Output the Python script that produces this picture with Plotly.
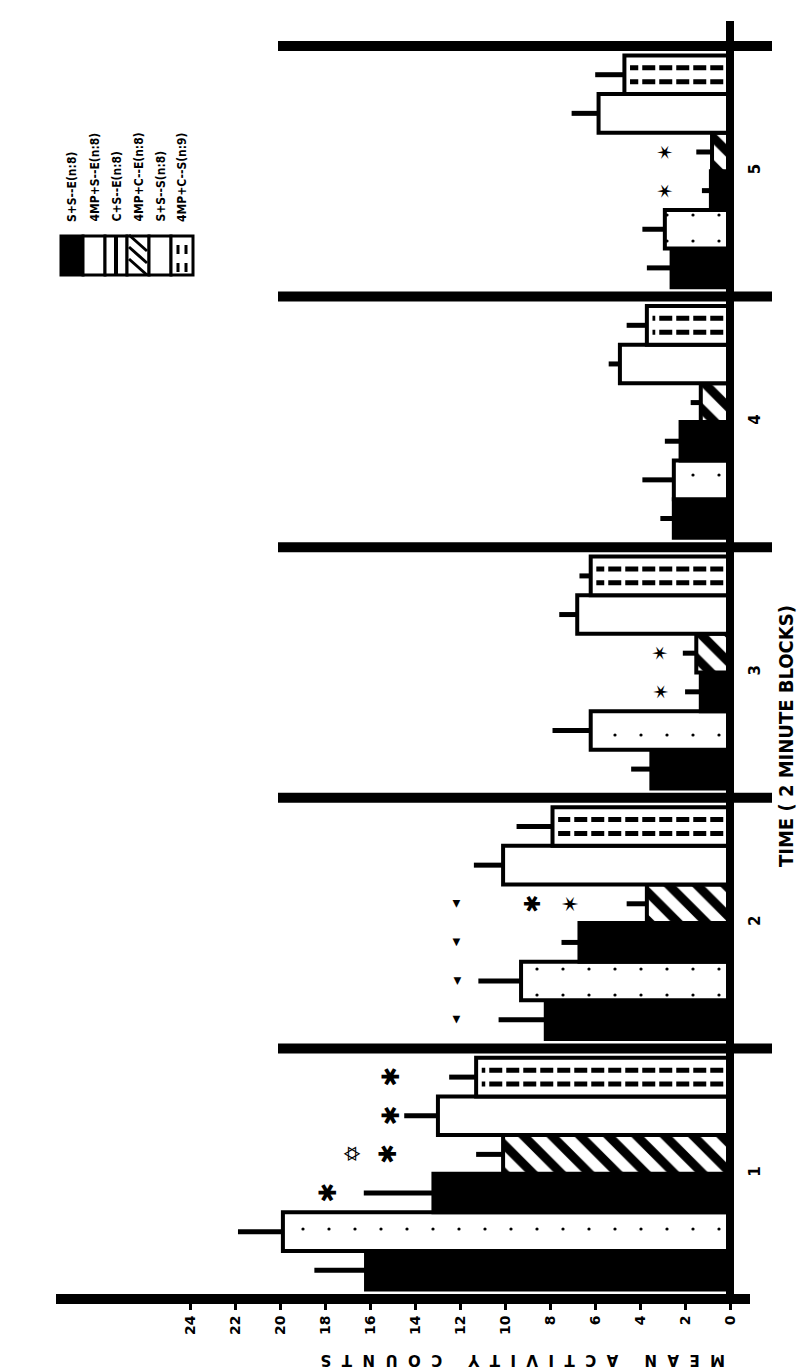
import plotly.graph_objects as go

# ---------------- data ----------------
blocks = [1, 2, 3, 4, 5]
block_labels = ["1", "2", "3", "4", "5"]
value_ticks = [0, 2, 4, 6, 8, 10, 12, 14, 16, 18, 20, 22, 24]

groups = ["S+S--E(n:8)", "4MP+S--E(n:8)", "C+S--E(n:8)",
          "4MP+C--E(n:8)", "S+S--S(n:8)", "4MP+C--S(n:9)"]

s_s_e = [16.2, 8.2, 3.5, 2.5, 2.6]
s_s_e_err = [2.3, 2.1, 0.9, 0.6, 1.1]
mp_s_e = [19.9, 9.3, 6.2, 2.5, 2.9]
mp_s_e_err = [2.0, 1.9, 1.7, 1.4, 1.0]
c_s_e = [13.2, 6.7, 1.3, 2.2, 0.85]
c_s_e_err = [3.1, 0.8, 0.7, 0.7, 0.4]
mp_c_e = [10.1, 3.7, 1.5, 1.3, 0.8]
mp_c_e_err = [1.2, 0.9, 0.6, 0.45, 0.7]
s_s_s = [13.0, 10.1, 6.8, 4.9, 5.85]
s_s_s_err = [1.5, 1.3, 0.8, 0.5, 1.2]
mp_c_s = [11.3, 7.9, 6.2, 3.7, 4.7]
mp_c_s_err = [1.2, 1.6, 0.5, 0.9, 1.3]

values = [s_s_e, mp_s_e, c_s_e, mp_c_e, s_s_s, mp_c_s]
errors = [s_s_e_err, mp_s_e_err, c_s_e_err, mp_c_e_err, s_s_s_err, mp_c_s_err]

# significance marks: block, bar index, value position, symbol, size
marks_block = [1, 1, 1, 1, 1, 2, 2, 2, 2, 2, 2, 3, 3, 5, 5]
marks_bar = [2, 3, 3, 4, 5, 3, 3, 3, 2, 1, 0, 3, 2, 3, 2]
marks_val = [17.9, 16.8, 15.2, 15.1, 15.1, 8.8, 7.1, 12.2, 12.2, 12.2, 12.2, 3.1, 3.1, 2.9, 2.9]
marks_sym = ["✱", "✡", "✱", "✱", "✱", "✱", "✶", "◀", "◀", "◀", "◀", "✶", "✶", "✶", "✶"]
marks_size = [24, 22, 24, 24, 24, 22, 22, 10, 10, 10, 10, 20, 20, 20, 20]

# ---------------- styles ----------------
styles = [
    dict(color="black", pattern=dict(shape="")),
    dict(color="white", pattern=dict(shape=".", fgcolor="black", bgcolor="white",
                                     fgopacity=1, size=26, solidity=0.012)),
    dict(color="black", pattern=dict(shape="")),
    dict(color="white", pattern=dict(shape="\\", fgcolor="black", bgcolor="white",
                                     fgopacity=1, size=20, solidity=0.45)),
    dict(color="white", pattern=dict(shape="")),
    dict(color="white", pattern=dict(shape="")),
]

W, H = 809, 1368
L, R, T, B = 48, 87, 38, 77
PW, PH = W - L - R, H - T - B


def px_x(px):
    return (px - L) / PW


def px_y(py):
    return (H - B - py) / PH


bargap = 0.075
bar_w = (1 - bargap) / len(groups)

fig = go.Figure()
for name, vals, errs, st in zip(groups, values, errors, styles):
    fig.add_trace(go.Bar(
        x=vals, y=blocks, orientation="h", name=name,
        marker=dict(color=st["color"], pattern=st["pattern"],
                    line=dict(color="black", width=4)),
        error_x=dict(type="data", symmetric=False, array=errs,
                     arrayminus=[0] * len(errs), color="black",
                     thickness=5, width=0),
        showlegend=False,
    ))

# two rows of dashes inside the 4MP+C--S bars
dash_x, dash_y = [], []
c5 = -(1 - bargap) / 2 + bar_w * 5.5
for b, v in zip(blocks, mp_c_s):
    for off in (-0.18, 0.18):
        yy = b + c5 + off * bar_w
        dash_x += [0.3, v - 0.25, None]
        dash_y += [yy, yy, None]
fig.add_trace(go.Scatter(x=dash_x, y=dash_y, mode="lines", hoverinfo="skip",
                         line=dict(color="black", width=5, dash="13px,4px"),
                         showlegend=False))

annotations = []
for b, i, v, s, sz in zip(marks_block, marks_bar, marks_val, marks_sym, marks_size):
    yy = b - (1 - bargap) / 2 + bar_w * (i + 0.5)
    annotations.append(dict(x=v, y=yy, xref="x", yref="y", text=s, showarrow=False,
                            textangle=-90, xanchor="center", yanchor="middle",
                            font=dict(size=sz, color="black", family="DejaVu Sans")))

title_txt = "     ".join("  ".join(list(w)) for w in ["MEAN", "ACTIVITY", "COUNTS"])
annotations.append(dict(x=px_x(515), y=px_y(1352), xref="paper", yref="paper",
                        text="<b>" + title_txt + "</b>",
                        showarrow=False, textangle=180, xanchor="center", yanchor="middle",
                        font=dict(size=15, color="black", family="DejaVu Sans")))
annotations.append(dict(x=px_x(778), y=px_y(728), xref="paper", yref="paper",
                        text="<b>TIME ( 2 MINUTE BLOCKS)</b>",
                        showarrow=False, textangle=-90, xanchor="center", yanchor="middle",
                        font=dict(size=20, color="black", family="DejaVu Sans Condensed")))

shapes = []
# bottom axis line
shapes.append(dict(type="line", xref="paper", yref="paper", x0=0, x1=px_x(742),
                   y0=0, y1=0, line=dict(color="black", width=10)))
# baseline (zero) line
shapes.append(dict(type="line", xref="paper", yref="paper", x0=1, x1=1,
                   y0=px_y(1296), y1=px_y(13), line=dict(color="black", width=8)))
# block separators
for k in range(1, 6):
    shapes.append(dict(type="line", xref="paper", yref="paper", x0=px_x(270), x1=px_x(764),
                       y0=k / 5, y1=k / 5, line=dict(color="black", width=10)))

# custom rotated legend (top left)
sw_top, sw_bot = 228, 267
for i, name in enumerate(groups):
    xc = 64 + 22 * i
    x0, x1 = xc - 11, xc + 11
    fill = "black" if i == 0 else "white"
    shapes.append(dict(type="rect", xref="paper", yref="paper",
                       x0=px_x(x0), x1=px_x(x1), y0=px_y(sw_bot), y1=px_y(sw_top),
                       fillcolor=fill, line=dict(color="black", width=3)))
    if i == 2:
        shapes.append(dict(type="line", xref="paper", yref="paper", x0=px_x(xc), x1=px_x(xc),
                           y0=px_y(sw_bot), y1=px_y(sw_top), line=dict(color="black", width=4)))
    if i == 3:
        for d in (-12, 0, 12):
            shapes.append(dict(type="line", xref="paper", yref="paper",
                               x0=px_x(x0 + 2), x1=px_x(x1 - 2),
                               y0=px_y(247 + d - 8), y1=px_y(247 + d + 8),
                               line=dict(color="black", width=3)))
    if i == 5:
        for dx in (-4, 4):
            shapes.append(dict(type="line", xref="paper", yref="paper",
                               x0=px_x(xc + dx), x1=px_x(xc + dx),
                               y0=px_y(sw_bot - 3), y1=px_y(sw_top + 3),
                               line=dict(color="black", width=3, dash="dash")))
    annotations.append(dict(x=px_x(xc), y=px_y(216), xref="paper", yref="paper",
                            text="<b>" + name + "</b>", showarrow=False, textangle=-90,
                            yanchor="bottom", xanchor="center",
                            font=dict(size=12, color="black", family="DejaVu Sans Condensed")))

fig.update_layout(
    width=W, height=H,
    margin=dict(l=L, r=R, t=T, b=B),
    paper_bgcolor="white", plot_bgcolor="white",
    barmode="group", bargap=bargap, bargroupgap=0,
    xaxis=dict(range=[30, 0], tickvals=value_ticks,
               ticktext=["<b>" + str(v) + "</b>" for v in value_ticks],
               tickangle=-90, ticks="outside", ticklen=10, tickwidth=3, tickcolor="black",
               showgrid=False, zeroline=False, showline=False,
               tickfont=dict(size=14, color="black", family="DejaVu Sans"), fixedrange=True),
    yaxis=dict(range=[0.5, 5.5], tickvals=blocks, ticktext=["<b>" + t + "</b>" for t in block_labels],
               side="right", tickangle=-90, ticks="", showgrid=False, zeroline=False,
               showline=False, ticklabelstandoff=14,
               tickfont=dict(size=15, color="black", family="DejaVu Sans")),
    annotations=annotations,
    shapes=shapes,
    showlegend=False,
)

fig.write_html("out.html")
